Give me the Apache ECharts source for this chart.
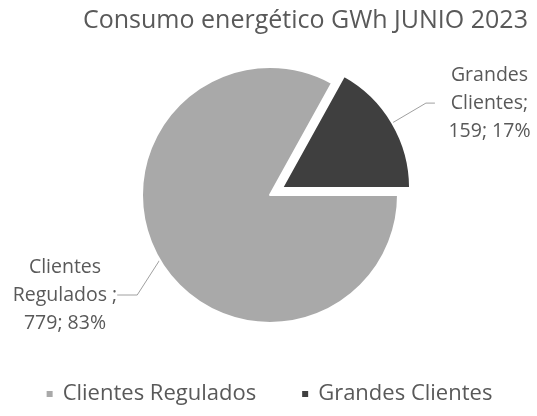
<!DOCTYPE html>
<html>
<head>
<meta charset="utf-8">
<script src="https://cdn.jsdelivr.net/npm/echarts@6/dist/echarts.min.js"></script>
<style>
  html, body { margin: 0; padding: 0; background: #fff; }
  #container { width: 537px; height: 416px; }
</style>
</head>
<body>
<div id="container"></div>
<script>
var categories = ['Clientes Regulados', 'Grandes Clientes'];
var values = [779, 159];
// label text as printed in the chart (one entry per line)
var labelNames = [['Clientes', 'Regulados ;'], ['Grandes', 'Clientes;']];
var colors = ['#a9a9a9', '#3f3f3f'];

var chart = echarts.init(document.getElementById('container'));

var seriesData = [];
for (var i = 0; i < categories.length; i++) {
    seriesData.push({
        name: categories[i],
        value: values[i],
        selected: i == 1,
        itemStyle: { color: colors[i] },
        // the exploded slice keeps its label where the pie puts it
        labelLine: i == 1 ? { length: 39, length2: 9 } : { length: 12, length2: 20 }
    });
}

var option = {
    backgroundColor: '#fff',
    animation: false,
    title: {
        text: 'Consumo energético GWh JUNIO 2023',
        left: 78,
        top: 3,
        textStyle: {
            fontFamily: 'Open Sans',
            fontWeight: 'normal',
            fontSize: 25,
            color: '#595959'
        }
    },
    legend: {
        bottom: 6,
        left: 'center',
        icon: 'rect',
        itemWidth: 8,
        itemHeight: 8,
        itemGap: 44,
        textStyle: {
            fontFamily: 'Open Sans',
            fontSize: 22,
            color: '#595959',
            padding: [0, 0, 0, 4]
        },
        data: categories
    },
    series: [{
        type: 'pie',
        center: [270, 195],
        radius: 128,
        startAngle: 0,
        clockwise: true,
        percentPrecision: 0,
        selectedMode: 'single',
        selectedOffset: 14,
        itemStyle: { borderColor: '#fff', borderWidth: 2 },
        label: {
            show: true,
            position: 'outside',
            overflow: 'none',
            formatter: function (p) {
                var lines = labelNames[p.dataIndex].concat([p.value + '; ' + p.percent + '%']);
                return lines.map(function (s) { return '{a|' + s + '}'; }).join('\n');
            },
            rich: {
                a: {
                    width: 100,
                    align: 'center',
                    fontFamily: 'Open Sans',
                    fontSize: 19.5,
                    lineHeight: 28,
                    color: '#595959'
                }
            }
        },
        labelLine: {
            show: true,
            lineStyle: { color: '#a0a0a0', width: 1 }
        },
        labelLayout: function (params) {
            if (params.dataIndex == 0) {
                return { x: 65, y: 295, align: 'center', verticalAlign: 'middle' };
            }
            return {};
        },
        emphasis: { disabled: true },
        data: seriesData
    }]
};
chart.setOption(option);
</script>
</body>
</html>
